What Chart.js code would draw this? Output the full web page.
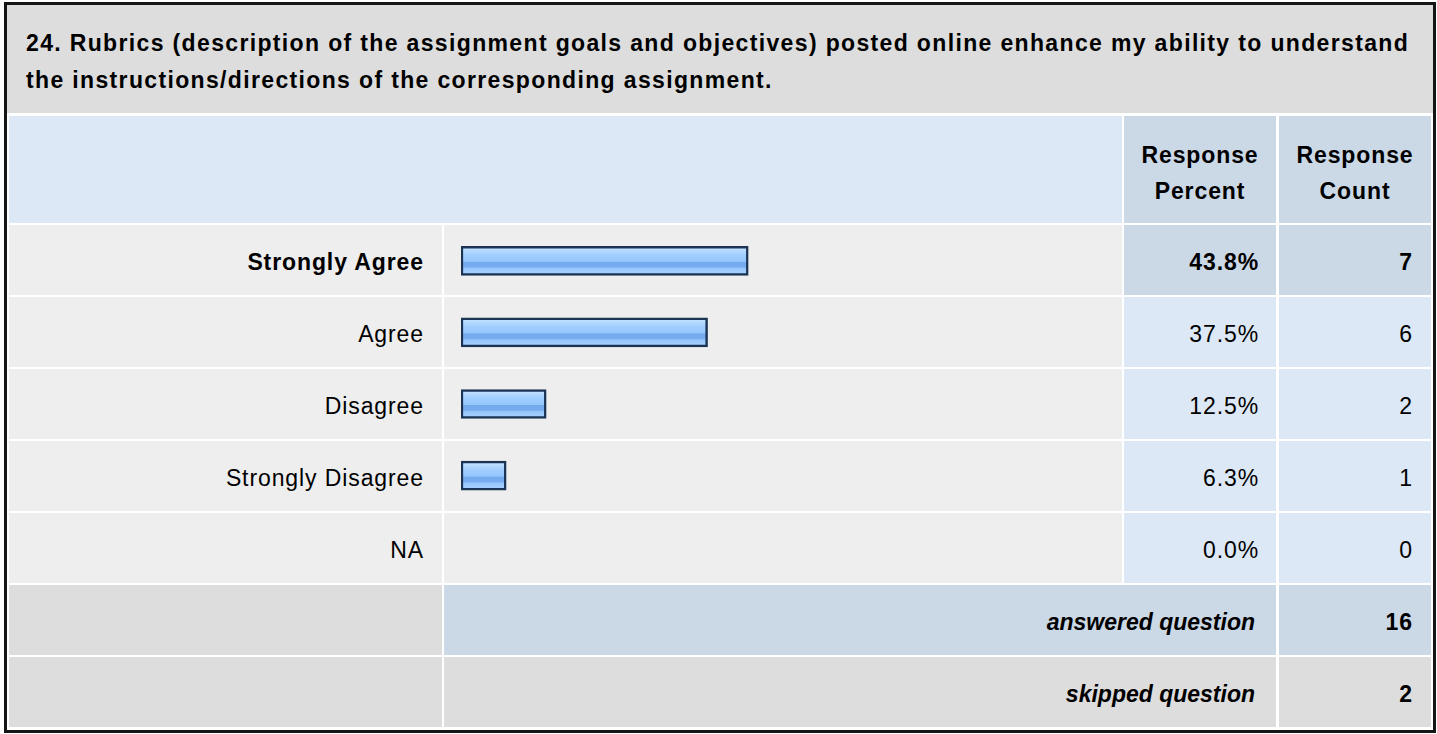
<!DOCTYPE html>
<html>
<head>
<meta charset="utf-8">
<title>Question 24 – Rubrics</title>
<script src="https://cdn.jsdelivr.net/npm/chart.js@4.4.1/dist/chart.umd.min.js"></script>
<style>
  html, body { margin: 0; padding: 0; background: #fff; }
  body { width: 1437px; height: 734px; position: relative; overflow: hidden;
         font-family: "Liberation Sans", Arial, Helvetica, sans-serif; color: #000; }
  #frame { position: absolute; left: 4px; top: 2px; width: 1432px; height: 731px;
           box-sizing: border-box; border: 3px solid #151515; background: #fff; }
  .cell { position: absolute; box-sizing: border-box; display: flex; align-items: center; }
  .right { justify-content: flex-end; text-align: right; }
  .center { justify-content: center; text-align: center; }
  .txt { font-size: 23px; letter-spacing: 0.9px; padding-top: 4px; white-space: nowrap; }
  .bold { font-weight: bold; }
  .ital { font-style: italic; letter-spacing: 0; }
  #title { left: 7px; top: 5px; width: 1426px; height: 108px; background: #dddddd;
           font-size: 23px; font-weight: bold; letter-spacing: 1.35px; line-height: 37px;
           padding: 6px 0 0 19px; white-space: nowrap; align-items: center; }
  #barCanvasWrap { position: absolute; left: 444px; top: 225px; width: 678px; height: 358px; }
</style>
</head>
<body>
<div id="frame"></div>
<div id="cells"></div>
<div id="barCanvasWrap"><canvas id="barChart" width="678" height="358"></canvas></div>

<script>
// ─── Data ─────────────────────────────────────────────────────────────────────
const questionLines = [
  '24. Rubrics (description of the assignment goals and objectives) posted online enhance my ability to understand',
  'the instructions/directions of the corresponding assignment.',
];
const columnHeaders = [['Response', 'Percent'], ['Response', 'Count']];
const answerLabels = ['Strongly Agree', 'Agree', 'Disagree', 'Strongly Disagree', 'NA'];
const responsePercent = [43.8, 37.5, 12.5, 6.3, 0.0];
const responseCount = [7, 6, 2, 1, 0];
const summaryLabels = ['answered question', 'skipped question'];
const summaryCounts = [16, 2];
const topAnswerIndex = 0; // bold / highlighted row

// ─── Table cells ──────────────────────────────────────────────────────────────
const COLS = { label: [9, 442], bar: [444, 1122], pct: [1124, 1276], count: [1279, 1431] };
const ROW_TOP = 225, ROW_H = 70, ROW_PITCH = 72;

function cell(x0, x1, y, h, bg, html = '', cls = '', pad = 0) {
  const style = `left:${x0}px;top:${y}px;width:${x1 - x0}px;height:${h}px;background:${bg};` +
    (pad ? `padding-right:${pad}px;` : '');
  return `<div class="cell ${cls}" style="${style}">${html}</div>`;
}

function renderTable() {
  let html = `<div id="title" class="cell"><div>${questionLines.join('<br>')}</div></div>`;

  // header row
  html += cell(COLS.label[0], COLS.bar[1], 116, 107, '#dce8f5');
  html += cell(COLS.pct[0], COLS.pct[1], 116, 107, '#cbd8e6',
    `<div class="txt bold" style="line-height:36px;padding-top:6px">${columnHeaders[0].join('<br>')}</div>`, 'center');
  html += cell(COLS.count[0], COLS.count[1], 116, 107, '#cbd8e6',
    `<div class="txt bold" style="line-height:36px;padding-top:6px">${columnHeaders[1].join('<br>')}</div>`, 'center');

  // answer rows
  answerLabels.forEach((lab, i) => {
    const y = ROW_TOP + i * ROW_PITCH;
    const top = i === topAnswerIndex;
    const b = top ? ' bold' : '';
    const valBg = top ? '#cbd8e6' : '#dce8f5';
    html += cell(COLS.label[0], COLS.label[1], y, ROW_H, '#eeeeee', `<div class="txt${b}">${lab}</div>`, 'right', 18);
    html += cell(COLS.bar[0], COLS.bar[1], y, ROW_H, '#eeeeee');
    html += cell(COLS.pct[0], COLS.pct[1], y, ROW_H, valBg,
      `<div class="txt${b}">${responsePercent[i].toFixed(1)}%</div>`, 'right', 17);
    html += cell(COLS.count[0], COLS.count[1], y, ROW_H, valBg,
      `<div class="txt${b}">${responseCount[i]}</div>`, 'right', 18);
  });

  // answered / skipped
  summaryLabels.forEach((lab, j) => {
    const y = ROW_TOP + (answerLabels.length + j) * ROW_PITCH;
    const bg = j === 0 ? '#cbd8e6' : '#dddddd';
    html += cell(COLS.label[0], COLS.label[1], y, ROW_H, '#dddddd');
    html += cell(COLS.bar[0], COLS.pct[1], y, ROW_H, bg, `<div class="txt bold ital">${lab}</div>`, 'right', 21);
    html += cell(COLS.count[0], COLS.count[1], y, ROW_H, bg, `<div class="txt bold">${summaryCounts[j]}</div>`, 'right', 18);
  });

  document.getElementById('cells').innerHTML = html;
}

// ─── Bar chart (Chart.js) ─────────────────────────────────────────────────────
const BAR_H = 29;
const BAR_BASE = -0.7; // bars start a few px left of the zero point

function barGradient(ctx) {
  const chart = ctx.chart;
  const yScale = chart.scales.y;
  const cy = yScale ? yScale.getPixelForValue(ctx.dataIndex) : NaN;
  if (!Number.isFinite(cy)) return '#99c9ff';
  const g = chart.ctx.createLinearGradient(0, cy - BAR_H / 2, 0, cy + BAR_H / 2);
  g.addColorStop(0, '#cfe7ff');
  g.addColorStop(0.16, '#b4d9ff');
  g.addColorStop(0.32, '#9fcdff');
  g.addColorStop(0.52, '#95c6fc');
  g.addColorStop(0.55, '#74aaee');
  g.addColorStop(0.72, '#78aef0');
  g.addColorStop(0.76, '#97c7fc');
  g.addColorStop(1, '#a9d3ff');
  return g;
}

function renderBars() {
  new Chart(document.getElementById('barChart'), {
    type: 'bar',
    data: {
      labels: answerLabels,
      datasets: [{
        data: responsePercent,
        base: BAR_BASE,
        barThickness: BAR_H,
        backgroundColor: (c) => (c.raw > 0 ? barGradient(c) : 'transparent'),
        borderColor: (c) => (c.raw > 0 ? '#1b3456' : 'transparent'),
        borderWidth: 2.5,
        borderSkipped: false,
      }],
    },
    options: {
      indexAxis: 'y',
      responsive: false,
      animation: false,
      events: [],
      layout: { padding: { left: 17, right: 11, top: 0, bottom: 0 } },
      plugins: { legend: { display: false }, tooltip: { enabled: false } },
      scales: {
        x: { display: false, min: BAR_BASE, max: 100 },
        y: { display: false },
      },
    },
  });
}

renderTable();
renderBars();
</script>
</body>
</html>
